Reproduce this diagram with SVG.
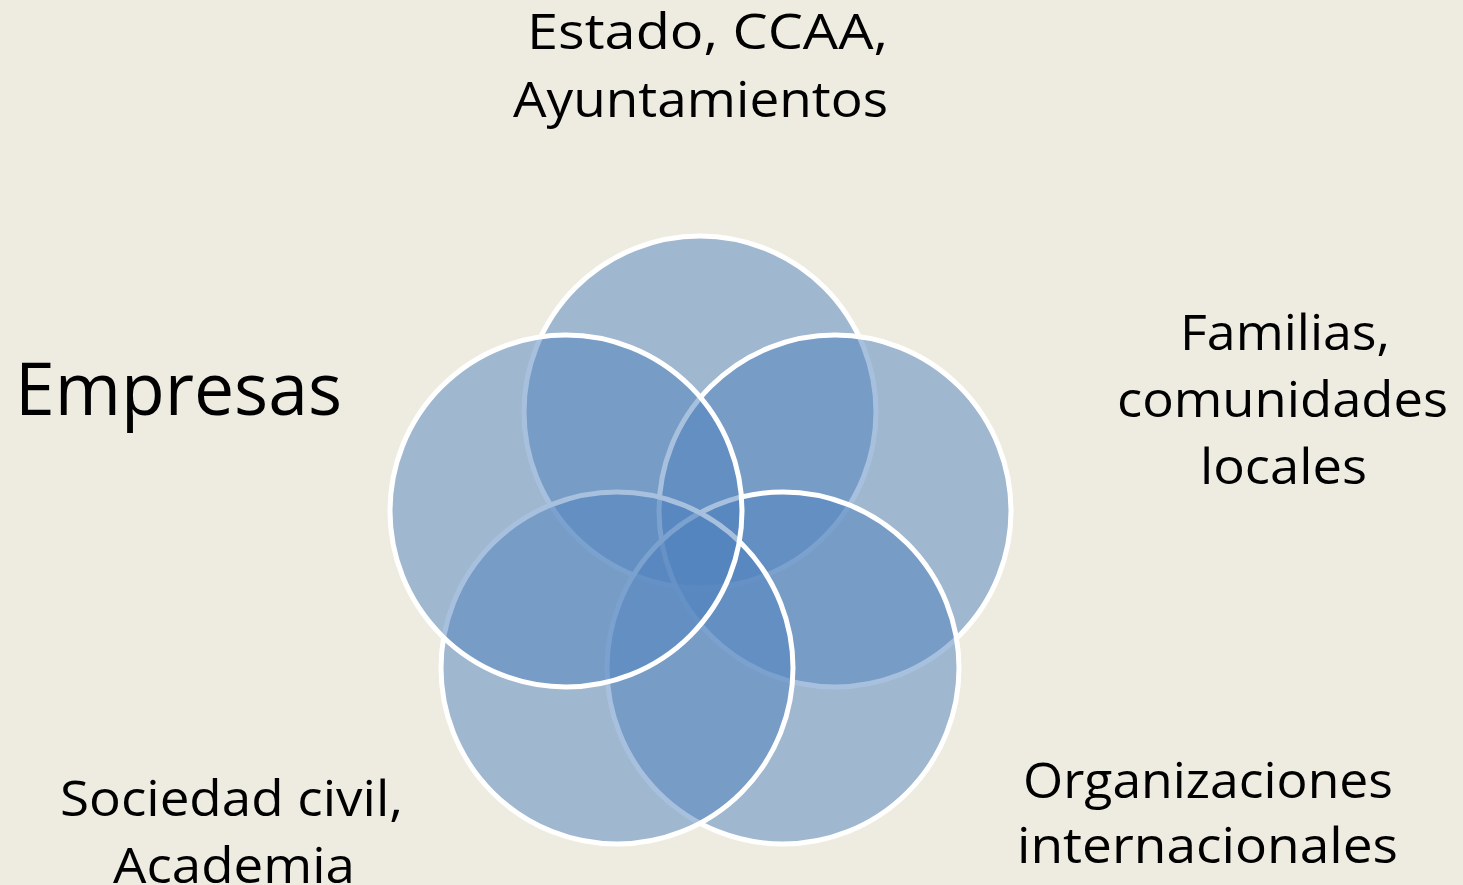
<svg xmlns="http://www.w3.org/2000/svg" width="1463" height="885" viewBox="0 0 1463 885">
  <style>
    .bg { fill: #EEECE1; }
    .c { fill: rgb(79,129,189); fill-opacity: 0.5; stroke: #FFFFFF; stroke-width: 5; }
    .t { font-family: "Open Sans", "Noto Sans", "Liberation Sans", sans-serif; font-size: 50px; fill: #000000; }
    .big { font-size: 74px; }
  </style>
  <rect class="bg" x="0" y="0" width="1463" height="885"/>
  <g id="connectors"></g>
  <g id="node-estado">
    <circle class="c" cx="700" cy="412" r="176"/>
    <text class="t" x="527" y="49" textLength="361" lengthAdjust="spacingAndGlyphs">Estado, CCAA,</text>
    <text class="t" x="513" y="117" textLength="375" lengthAdjust="spacingAndGlyphs">Ayuntamientos</text>
  </g>
  <g id="node-familias">
    <circle class="c" cx="835" cy="511" r="176"/>
    <text class="t" x="1180" y="350" textLength="210" lengthAdjust="spacingAndGlyphs">Familias,</text>
    <text class="t" x="1117" y="417" textLength="331" lengthAdjust="spacingAndGlyphs">comunidades</text>
    <text class="t" x="1200" y="484" textLength="167" lengthAdjust="spacingAndGlyphs">locales</text>
  </g>
  <g id="node-organizaciones">
    <circle class="c" cx="783" cy="668" r="176"/>
    <text class="t" x="1023" y="798" textLength="370" lengthAdjust="spacingAndGlyphs">Organizaciones</text>
    <text class="t" x="1017" y="863" textLength="381" lengthAdjust="spacingAndGlyphs">internacionales</text>
  </g>
  <g id="node-sociedad">
    <circle class="c" cx="617" cy="668" r="176"/>
    <text class="t" x="60" y="816" textLength="343" lengthAdjust="spacingAndGlyphs">Sociedad civil,</text>
    <text class="t" x="113" y="883" textLength="242" lengthAdjust="spacingAndGlyphs">Academia</text>
  </g>
  <g id="node-empresas">
    <circle class="c" cx="566" cy="511" r="176"/>
    <text class="t big" x="15" y="415" textLength="327" lengthAdjust="spacingAndGlyphs">Empresas</text>
  </g>
</svg>
